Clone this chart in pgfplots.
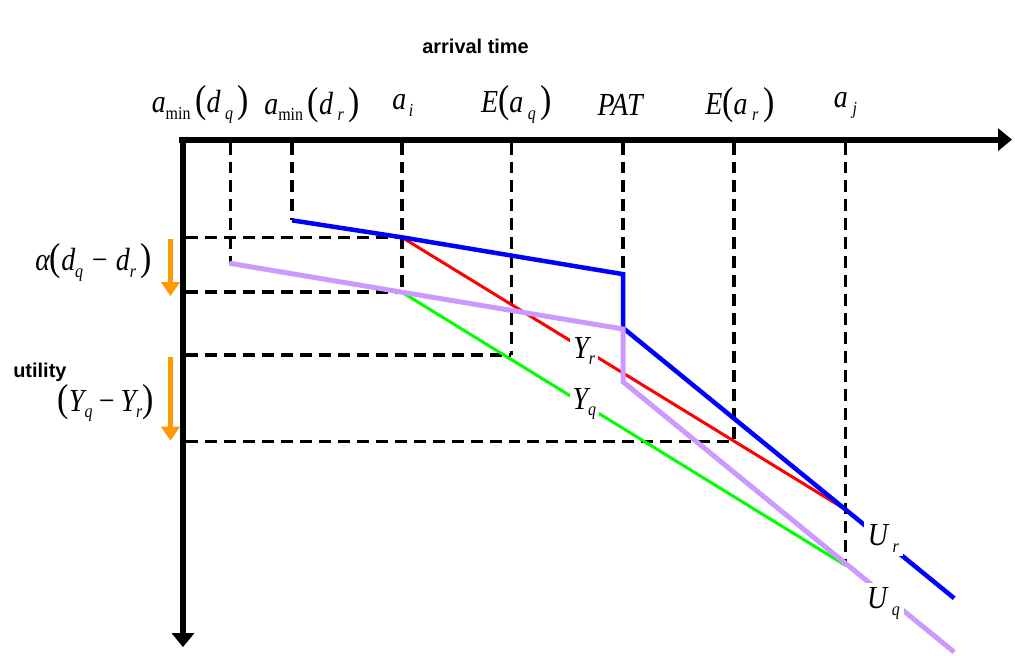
\documentclass[border=0pt]{standalone}
\usepackage{fontspec}
\setmainfont{Liberation Serif}
\newfontfamily\arial{Liberation Sans}
\usepackage{graphicx}
\usepackage{pgfplots}
\pgfplotsset{compat=1.18}
\usetikzlibrary{arrows.meta}

\definecolor{lineBlue}{RGB}{0,0,255}
\definecolor{lineRed}{RGB}{255,0,0}
\definecolor{lineGreen}{RGB}{0,255,0}
\definecolor{lineLilac}{RGB}{204,153,255}
\definecolor{arrOrange}{RGB}{255,153,0}

% label pieces (Times-like italic, small subscripts, big parentheses)
\newcommand{\lsub}[1]{\raisebox{-0.45ex}{\fontsize{16}{16}\selectfont #1}}
\newcommand{\lp}{{\fontsize{34}{34}\selectfont\upshape(}}
\newcommand{\rp}{{\fontsize{34}{34}\selectfont\upshape)}}
\newcommand{\lbl}{\fontsize{28}{30}\selectfont\itshape}
\newcommand{\tall}[1]{\scalebox{1}[1.15]{#1}}

\begin{document}
\begin{tikzpicture}
\begin{axis}[
    width=1015pt, height=657pt, scale only axis,
    xmin=0, xmax=1015, ymin=0, ymax=657,
    y dir=reverse, hide axis, clip=false,
    guide/.style={black, line width=3.6pt, dash pattern=on 12pt off 7pt},
]
\path (axis cs:0,0) rectangle (axis cs:1015,657);

% vertical guides
\addplot[guide] coordinates {(231,143)(231,264)};
\addplot[guide] coordinates {(293,143)(293,221)};
\addplot[guide] coordinates {(403,143)(403,293)};
\addplot[guide] coordinates {(513,143)(513,356)};
\addplot[guide] coordinates {(625,143)(625,275)};
\addplot[guide] coordinates {(736,143)(736,443)};
\addplot[guide] coordinates {(848,143)(848,567)};
% horizontal guides
\addplot[guide] coordinates {(187,238)(403,238)};
\addplot[guide] coordinates {(187,293)(403,293)};
\addplot[guide] coordinates {(187,356)(513,356)};
\addplot[guide] coordinates {(187,443)(736,443)};

% Y_r and Y_q
\addplot[lineRed, line width=3pt] coordinates {(403,238)(848,511)};
\addplot[lineGreen, line width=3pt] coordinates {(403,293)(848,567)};
% U_r and U_q
\addplot[lineBlue, line width=4.5pt, line join=miter] coordinates {(293,221)(403,238)(625,275)(625,329)(957,600)};
\addplot[lineLilac, line width=5pt, line join=miter] coordinates {(230,264)(403,293)(625,330)(625,383)(957,654)};

% axes
\addplot[black, line width=6pt, -{Triangle[length=14pt,width=22pt]}] coordinates {(180,140)(1015,140)};
\addplot[black, line width=6pt, -{Triangle[length=14pt,width=22pt]}] coordinates {(183.5,137)(183.5,649)};

% orange arrows
\addplot[arrOrange, line width=6pt, -{Triangle[length=14pt,width=18pt]}] coordinates {(171,240)(171,297)};
\addplot[arrOrange, line width=6pt, -{Triangle[length=14pt,width=18pt]}] coordinates {(171,358)(171,442)};

% texts
\node[font=\arial\bfseries\fontsize{20}{22}\selectfont] at (axis cs:477,47) {arrival time};
\node[font=\arial\bfseries\fontsize{20}{22}\selectfont] at (axis cs:40,373) {utility};

\node[font=\lbl] at (axis cs:201,105) {\tall{a\lsub{\upshape min}\,\lp d\,\lsub{q}\,\rp}};
\node[font=\lbl] at (axis cs:313,105) {\tall{a\lsub{\upshape min}\,\lp d\,\lsub{r}\,\rp}};
\node[font=\lbl] at (axis cs:404,106) {\tall{a\lsub{\,i}}};
\node[font=\lbl] at (axis cs:518,105) {\tall{E\lp a\,\lsub{q}\,\rp}};
\node[font=\lbl] at (axis cs:622,105) {\tall{PAT}};
\node[font=\lbl] at (axis cs:742,105) {\tall{E\lp a\,\lsub{r}\,\rp}};
\node[font=\lbl] at (axis cs:848,106) {\tall{a\,\lsub{j}}};

\node[font=\lbl] at (axis cs:94,263) {\tall{α\lp d\lsub{q} − d\lsub{r}\,\rp}};
\node[font=\lbl] at (axis cs:106,404) {\tall{\lp Y\lsub{q}\,−\,Y\lsub{r}\rp}};

\node[font=\lbl, fill=white, inner sep=3pt] at (axis cs:586,352) {\tall{Y\lsub{r}}};
\node[font=\lbl, fill=white, inner sep=3pt] at (axis cs:586,405) {\tall{Y\lsub{q}}};
\node[font=\lbl, fill=white, inner sep=4pt] at (axis cs:886,540) {\tall{U\,\lsub{r}}};
\node[font=\lbl, fill=white, inner sep=4pt] at (axis cs:886,605) {\tall{U\,\lsub{q}}};
\end{axis}
\end{tikzpicture}
\end{document}
